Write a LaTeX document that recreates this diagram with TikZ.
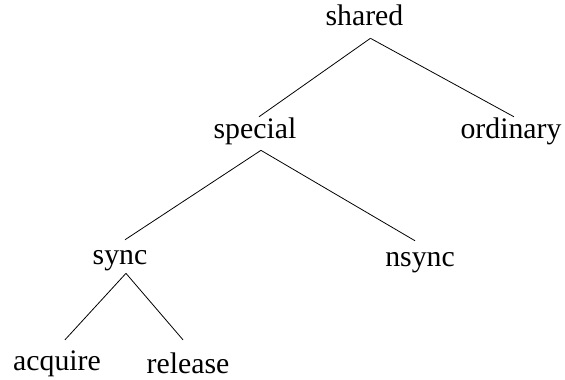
\documentclass[tikz,border=0pt]{standalone}
\usepackage{fontspec}
\setmainfont{Liberation Serif}
\begin{document}
\begin{tikzpicture}[every node/.style={font=\fontsize{15}{18}\selectfont, anchor=base, text height=9.5pt, text depth=3pt, inner sep=3pt}]
\useasboundingbox (0,0) rectangle (10,6.708);
\draw 

(6.451, 6.248) node(shared){shared}
(4.513, 4.265) node(special){special}
(9.044, 4.265) node(ordinary){ordinary}
(2.124, 2.018) node(sync){sync}
(7.434, 2.000) node(nsync){nsync}
(1.009, 0.159) node(acquire){acquire}
(3.327, 0.106) node(release){release};



\draw[-] ([xshift=3pt]shared.south) -- ([xshift=2pt, yshift=-2pt]special.north);
\draw[-] ([xshift=3pt]shared.south) -- ([xshift=1.5pt, yshift=-2pt]ordinary.north);
\draw[-] ([xshift=3pt]special.south) -- ([xshift=2.5pt]sync.north);
\draw[-] ([xshift=3pt]special.south) -- ([xshift=-2.5pt]nsync.north);
\draw[-] ([xshift=3pt, yshift=2pt]sync.south) -- ([xshift=4pt, yshift=2.5pt]acquire.north);
\draw[-] ([xshift=3pt, yshift=2pt]sync.south) -- ([xshift=-2.5pt, yshift=4pt]release.north);


\end{tikzpicture}
\end{document}
